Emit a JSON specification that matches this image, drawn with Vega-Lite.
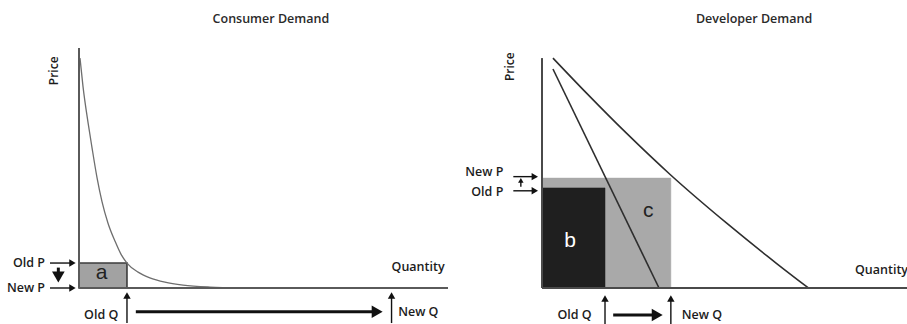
{
  "$schema": "https://vega.github.io/schema/vega-lite/v6.json",
  "background": "white",
  "padding": 0,
  "spacing": 0,
  "config": {"view": {"stroke": null}, "concat": {"spacing": 0}, "text": {"font": "Open Sans", "fontWeight": 600}},
  "resolve": {"scale": {"x": "independent", "y": "independent"}},
  "datasets": {
    "curves": [
      {"panel": 1, "curve": "consumer", "o": 1, "q": 0.27, "p": 95.8},
      {"panel": 1, "curve": "consumer", "o": 2, "q": 1.08, "p": 84},
      {"panel": 1, "curve": "consumer", "o": 3, "q": 2.44, "p": 69},
      {"panel": 1, "curve": "consumer", "o": 4, "q": 3.52, "p": 58.5},
      {"panel": 1, "curve": "consumer", "o": 5, "q": 4.88, "p": 46},
      {"panel": 1, "curve": "consumer", "o": 6, "q": 6.23, "p": 36},
      {"panel": 1, "curve": "consumer", "o": 7, "q": 7.86, "p": 27},
      {"panel": 1, "curve": "consumer", "o": 8, "q": 9.76, "p": 19.5},
      {"panel": 1, "curve": "consumer", "o": 9, "q": 11.4, "p": 14},
      {"panel": 1, "curve": "consumer", "o": 10, "q": 13.0, "p": 10.4},
      {"panel": 1, "curve": "consumer", "o": 11, "q": 16.0, "p": 6.6},
      {"panel": 1, "curve": "consumer", "o": 12, "q": 19.2, "p": 4.2},
      {"panel": 1, "curve": "consumer", "o": 13, "q": 23.3, "p": 2.4},
      {"panel": 1, "curve": "consumer", "o": 14, "q": 28.2, "p": 1.2},
      {"panel": 1, "curve": "consumer", "o": 15, "q": 35.5, "p": 0.4},
      {"panel": 1, "curve": "consumer", "o": 16, "q": 43.6, "p": 0.1},
      {"panel": 2, "curve": "inner", "o": 1, "q": 3.0, "p": 91.25},
      {"panel": 2, "curve": "inner", "o": 2, "q": 32.05, "p": 0},
      {"panel": 2, "curve": "outer", "o": 1, "q": 3.0, "p": 95.8},
      {"panel": 2, "curve": "outer", "o": 2, "q": 12.2, "p": 81.2},
      {"panel": 2, "curve": "outer", "o": 3, "q": 23.2, "p": 64.4},
      {"panel": 2, "curve": "outer", "o": 4, "q": 35.1, "p": 47.3},
      {"panel": 2, "curve": "outer", "o": 5, "q": 50.6, "p": 27.0},
      {"panel": 2, "curve": "outer", "o": 6, "q": 64.3, "p": 10.2},
      {"panel": 2, "curve": "outer", "o": 7, "q": 73.0, "p": 0}
    ],
    "rects": [
      {"panel": 1, "name": "a", "q": 0, "q2": 13, "p": 0, "p2": 10.4},
      {"panel": 2, "name": "c", "q": 0, "q2": 35.3, "p": 0, "p2": 45.8},
      {"panel": 2, "name": "b", "q": 0, "q2": 17.26, "p": 0, "p2": 41.7}
    ],
    "axes": [
      {"panel": 1, "q": 0, "q2": 0, "p": 0, "p2": 100},
      {"panel": 1, "q": 0, "q2": 100, "p": 0, "p2": 0},
      {"panel": 2, "q": 0, "q2": 0, "p": 0, "p2": 95.8},
      {"panel": 2, "q": 0, "q2": 100, "p": 0, "p2": 0}
    ],
    "shafts": [
      {"panel": 1, "weight": "thin", "q": -7.86, "q2": -2.2, "p": 10.4, "p2": 10.4},
      {"panel": 1, "weight": "thin", "q": -7.86, "q2": -2.2, "p": 0, "p2": 0},
      {"panel": 1, "weight": "thin", "q": 13, "q2": 13, "p": -14.6, "p2": -3.6},
      {"panel": 1, "weight": "thin", "q": 84.7, "q2": 84.7, "p": -14.6, "p2": -3.6},
      {"panel": 1, "weight": "thick", "q": -5.6, "q2": -5.6, "p": 8.5, "p2": 5.0},
      {"panel": 1, "weight": "thick", "q": 15.4, "q2": 80.0, "p": -9.9, "p2": -9.9},
      {"panel": 2, "weight": "thin", "q": -7.86, "q2": -2.5, "p": 46.4, "p2": 46.4},
      {"panel": 2, "weight": "thin", "q": -7.86, "q2": -2.5, "p": 40.5, "p2": 40.5},
      {"panel": 2, "weight": "tiny", "q": -5.8, "q2": -5.8, "p": 42.2, "p2": 44.3},
      {"panel": 2, "weight": "thin", "q": 17.26, "q2": 17.26, "p": -15, "p2": -4.9},
      {"panel": 2, "weight": "thin", "q": 35.3, "q2": 35.3, "p": -15, "p2": -4.9},
      {"panel": 2, "weight": "thick", "q": 19.5, "q2": 31.0, "p": -11.25, "p2": -11.25}
    ],
    "heads": [
      {"panel": 1, "weight": "thin", "dir": "right", "q": -1.77, "p": 10.4},
      {"panel": 1, "weight": "thin", "dir": "right", "q": -1.77, "p": 0},
      {"panel": 1, "weight": "thin", "dir": "up", "q": 13, "p": -3.1},
      {"panel": 1, "weight": "thin", "dir": "up", "q": 84.7, "p": -3.1},
      {"panel": 1, "weight": "thick", "dir": "down", "q": -5.6, "p": 4.6},
      {"panel": 1, "weight": "thick", "dir": "right", "q": 80.8, "p": -9.9},
      {"panel": 2, "weight": "thin", "dir": "right", "q": -1.97, "p": 46.4},
      {"panel": 2, "weight": "thin", "dir": "right", "q": -1.97, "p": 40.5},
      {"panel": 2, "weight": "tiny", "dir": "up", "q": -5.8, "p": 44.8},
      {"panel": 2, "weight": "thin", "dir": "up", "q": 17.26, "p": -4.4},
      {"panel": 2, "weight": "thin", "dir": "up", "q": 35.3, "p": -4.4},
      {"panel": 2, "weight": "thick", "dir": "right", "q": 31.56, "p": -11.25}
    ],
    "labels": [
      {"panel": 1, "role": "right", "text": "Old P", "q": -9.2, "p": 10.4},
      {"panel": 1, "role": "right", "text": "New P", "q": -9.2, "p": 0},
      {"panel": 1, "role": "right", "text": "Old Q", "q": 10.65, "p": -11.25},
      {"panel": 1, "role": "left", "text": "New Q", "q": 86.5, "p": -9.9},
      {"panel": 1, "role": "left", "text": "Quantity", "q": 84.7, "p": 8.9},
      {"panel": 1, "role": "price", "text": "Price", "q": -6.8, "p": 90.5},
      {"panel": 1, "role": "title", "text": "Consumer Demand", "q": 52, "p": 112},
      {"panel": 1, "role": "letter", "name": "a", "text": "a", "q": 6.15, "p": 6.2},
      {"panel": 2, "role": "right", "text": "New P", "q": -10.6, "p": 48.5},
      {"panel": 2, "role": "right", "text": "Old P", "q": -10.6, "p": 40.1},
      {"panel": 2, "role": "right", "text": "Old Q", "q": 13.6, "p": -11.25},
      {"panel": 2, "role": "left", "text": "New Q", "q": 38.3, "p": -11.25},
      {"panel": 2, "role": "left", "text": "Quantity", "q": 85.75, "p": 7.5},
      {"panel": 2, "role": "price", "text": "Price", "q": -8.9, "p": 92.2},
      {"panel": 2, "role": "title", "text": "Developer Demand", "q": 58.1, "p": 112},
      {"panel": 2, "role": "letter", "name": "b", "text": "b", "q": 7.67, "p": 19.7},
      {"panel": 2, "role": "letter", "name": "c", "text": "c", "q": 29.1, "p": 32.1}
    ]
  },
  "hconcat": [
    {
      "width": 460,
      "height": 324,
      "encoding": {
        "x": {"field": "q", "type": "quantitative", "scale": {"domain": [-21.41, 103.25], "nice": false, "zero": false}, "axis": null},
        "y": {"field": "p", "type": "quantitative", "scale": {"domain": [-15, 120], "nice": false, "zero": false}, "axis": null}
      },
      "layer": [
        {
          "data": {"name": "rects"},
          "transform": [{"filter": "datum.panel == 1"}],
          "mark": {"type": "rect", "strokeWidth": 1.6},
          "encoding": {
            "x2": {"field": "q2"}, "y2": {"field": "p2"},
            "fill": {"field": "name", "type": "nominal", "scale": {"domain": ["a", "b", "c"], "range": ["#a2a2a2", "#1f1f1f", "#a9a9a9"]}, "legend": null},
            "stroke": {"field": "name", "type": "nominal", "scale": {"domain": ["a", "b", "c"], "range": ["#3c3c3c", "#1f1f1f", "#a9a9a9"]}, "legend": null}
          }
        },
        {
          "data": {"name": "curves"},
          "transform": [{"filter": "datum.panel == 1"}],
          "mark": {"type": "line", "color": "#6e6e6e", "strokeWidth": 1.3, "interpolate": "monotone"},
          "encoding": {"detail": {"field": "curve"}, "order": {"field": "o", "type": "quantitative"}}
        },
        {
          "data": {"name": "axes"},
          "transform": [{"filter": "datum.panel == 1"}],
          "mark": {"type": "rule", "color": "#5a5a5a", "strokeWidth": 2},
          "encoding": {"x2": {"field": "q2"}, "y2": {"field": "p2"}}
        },
        {
          "data": {"name": "shafts"},
          "transform": [{"filter": "datum.panel == 1 && datum.weight == 'thin'"}],
          "mark": {"type": "rule", "color": "#111", "strokeWidth": 1.4},
          "encoding": {"x2": {"field": "q2"}, "y2": {"field": "p2"}}
        },
        {
          "data": {"name": "shafts"},
          "transform": [{"filter": "datum.panel == 1 && datum.weight == 'thick'"}],
          "mark": {"type": "rule", "color": "#111", "strokeWidth": 3},
          "encoding": {"x2": {"field": "q2"}, "y2": {"field": "p2"}}
        },
        {
          "data": {"name": "heads"},
          "transform": [{"filter": "datum.panel == 1 && datum.weight == 'thin'"}],
          "mark": {"type": "point", "filled": true, "color": "#111", "opacity": 1, "size": 55},
          "encoding": {
            "shape": {"field": "dir", "type": "nominal", "scale": {"domain": ["right", "up", "down"], "range": ["triangle-right", "triangle-up", "triangle-down"]}, "legend": null}
          }
        },
        {
          "data": {"name": "heads"},
          "transform": [{"filter": "datum.panel == 1 && datum.weight == 'thick'"}],
          "mark": {"type": "point", "filled": true, "color": "#111", "opacity": 1, "size": 160},
          "encoding": {
            "shape": {"field": "dir", "type": "nominal", "scale": {"domain": ["right", "up", "down"], "range": ["triangle-right", "triangle-up", "triangle-down"]}, "legend": null}
          }
        },
        {
          "data": {"name": "labels"},
          "transform": [{"filter": "datum.panel == 1 && datum.role == 'right'"}],
          "mark": {"type": "text", "align": "right", "baseline": "middle", "fontSize": 12.5, "color": "#1c1c1c"},
          "encoding": {"text": {"field": "text"}}
        },
        {
          "data": {"name": "labels"},
          "transform": [{"filter": "datum.panel == 1 && datum.role == 'left'"}],
          "mark": {"type": "text", "align": "left", "baseline": "middle", "fontSize": 12.5, "color": "#1c1c1c"},
          "encoding": {"text": {"field": "text"}}
        },
        {
          "data": {"name": "labels"},
          "transform": [{"filter": "datum.panel == 1 && datum.role == 'price'"}],
          "mark": {"type": "text", "align": "center", "baseline": "middle", "fontSize": 12, "angle": 270, "color": "#1c1c1c"},
          "encoding": {"text": {"field": "text"}}
        },
        {
          "data": {"name": "labels"},
          "transform": [{"filter": "datum.panel == 1 && datum.role == 'title'"}],
          "mark": {"type": "text", "align": "center", "baseline": "middle", "fontSize": 12.5, "color": "#2a2a2a"},
          "encoding": {"text": {"field": "text"}}
        },
        {
          "data": {"name": "labels"},
          "transform": [{"filter": "datum.panel == 1 && datum.role == 'letter'"}],
          "mark": {"type": "text", "align": "center", "baseline": "middle", "fontSize": 21, "fontWeight": "normal", "font": "Liberation Sans"},
          "encoding": {
            "text": {"field": "text"},
            "color": {"field": "name", "type": "nominal", "scale": {"domain": ["a", "b", "c"], "range": ["#222222", "#ffffff", "#222222"]}, "legend": null}
          }
        }
      ]
    },
    {
      "width": 447,
      "height": 324,
      "encoding": {
        "x": {"field": "q", "type": "quantitative", "scale": {"domain": [-22.47, 100], "nice": false, "zero": false}, "axis": null},
        "y": {"field": "p", "type": "quantitative", "scale": {"domain": [-15, 120], "nice": false, "zero": false}, "axis": null}
      },
      "layer": [
        {
          "data": {"name": "rects"},
          "transform": [{"filter": "datum.panel == 2"}],
          "mark": {"type": "rect", "strokeWidth": 0.5},
          "encoding": {
            "x2": {"field": "q2"}, "y2": {"field": "p2"},
            "fill": {"field": "name", "type": "nominal", "scale": {"domain": ["a", "b", "c"], "range": ["#a2a2a2", "#1f1f1f", "#a9a9a9"]}, "legend": null},
            "stroke": {"field": "name", "type": "nominal", "scale": {"domain": ["a", "b", "c"], "range": ["#3c3c3c", "#1f1f1f", "#a9a9a9"]}, "legend": null}
          }
        },
        {
          "data": {"name": "curves"},
          "transform": [{"filter": "datum.panel == 2"}],
          "mark": {"type": "line", "color": "#2e2e2e", "strokeWidth": 1.6, "interpolate": "monotone"},
          "encoding": {"detail": {"field": "curve"}, "order": {"field": "o", "type": "quantitative"}}
        },
        {
          "data": {"name": "axes"},
          "transform": [{"filter": "datum.panel == 2"}],
          "mark": {"type": "rule", "color": "#4a4a4a", "strokeWidth": 2},
          "encoding": {"x2": {"field": "q2"}, "y2": {"field": "p2"}}
        },
        {
          "data": {"name": "shafts"},
          "transform": [{"filter": "datum.panel == 2 && datum.weight != 'thick'"}],
          "mark": {"type": "rule", "color": "#111", "strokeWidth": 1.4},
          "encoding": {"x2": {"field": "q2"}, "y2": {"field": "p2"}}
        },
        {
          "data": {"name": "shafts"},
          "transform": [{"filter": "datum.panel == 2 && datum.weight == 'thick'"}],
          "mark": {"type": "rule", "color": "#111", "strokeWidth": 3},
          "encoding": {"x2": {"field": "q2"}, "y2": {"field": "p2"}}
        },
        {
          "data": {"name": "heads"},
          "transform": [{"filter": "datum.panel == 2 && datum.weight == 'thin'"}],
          "mark": {"type": "point", "filled": true, "color": "#111", "opacity": 1, "size": 55},
          "encoding": {
            "shape": {"field": "dir", "type": "nominal", "scale": {"domain": ["right", "up", "down"], "range": ["triangle-right", "triangle-up", "triangle-down"]}, "legend": null}
          }
        },
        {
          "data": {"name": "heads"},
          "transform": [{"filter": "datum.panel == 2 && datum.weight == 'tiny'"}],
          "mark": {"type": "point", "filled": true, "color": "#111", "opacity": 1, "size": 30},
          "encoding": {
            "shape": {"field": "dir", "type": "nominal", "scale": {"domain": ["right", "up", "down"], "range": ["triangle-right", "triangle-up", "triangle-down"]}, "legend": null}
          }
        },
        {
          "data": {"name": "heads"},
          "transform": [{"filter": "datum.panel == 2 && datum.weight == 'thick'"}],
          "mark": {"type": "point", "filled": true, "color": "#111", "opacity": 1, "size": 160},
          "encoding": {
            "shape": {"field": "dir", "type": "nominal", "scale": {"domain": ["right", "up", "down"], "range": ["triangle-right", "triangle-up", "triangle-down"]}, "legend": null}
          }
        },
        {
          "data": {"name": "labels"},
          "transform": [{"filter": "datum.panel == 2 && datum.role == 'right'"}],
          "mark": {"type": "text", "align": "right", "baseline": "middle", "fontSize": 12.5, "color": "#1c1c1c"},
          "encoding": {"text": {"field": "text"}}
        },
        {
          "data": {"name": "labels"},
          "transform": [{"filter": "datum.panel == 2 && datum.role == 'left'"}],
          "mark": {"type": "text", "align": "left", "baseline": "middle", "fontSize": 12.5, "color": "#1c1c1c", "clip": true},
          "encoding": {"text": {"field": "text"}}
        },
        {
          "data": {"name": "labels"},
          "transform": [{"filter": "datum.panel == 2 && datum.role == 'price'"}],
          "mark": {"type": "text", "align": "center", "baseline": "middle", "fontSize": 12, "angle": 270, "color": "#1c1c1c"},
          "encoding": {"text": {"field": "text"}}
        },
        {
          "data": {"name": "labels"},
          "transform": [{"filter": "datum.panel == 2 && datum.role == 'title'"}],
          "mark": {"type": "text", "align": "center", "baseline": "middle", "fontSize": 12.5, "color": "#2a2a2a"},
          "encoding": {"text": {"field": "text"}}
        },
        {
          "data": {"name": "labels"},
          "transform": [{"filter": "datum.panel == 2 && datum.role == 'letter'"}],
          "mark": {"type": "text", "align": "center", "baseline": "middle", "fontSize": 21, "fontWeight": "normal", "font": "Liberation Sans"},
          "encoding": {
            "text": {"field": "text"},
            "color": {"field": "name", "type": "nominal", "scale": {"domain": ["a", "b", "c"], "range": ["#222222", "#ffffff", "#222222"]}, "legend": null}
          }
        }
      ]
    }
  ]
}
